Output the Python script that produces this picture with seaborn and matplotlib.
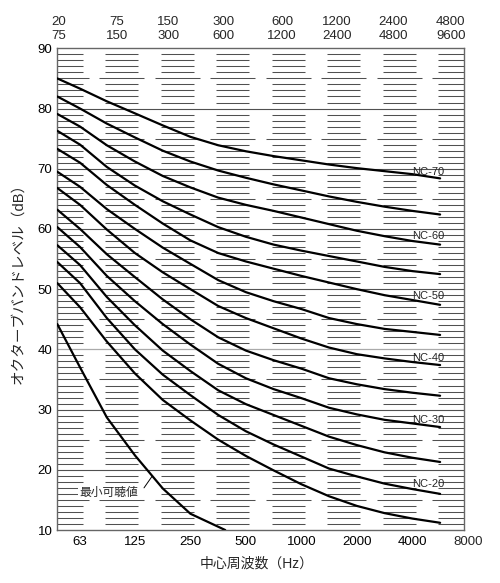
import numpy as np
import pandas as pd
import matplotlib
matplotlib.use("Agg")
import matplotlib.pyplot as plt
from matplotlib.ticker import NullLocator
import seaborn as sns

# frequencies (Hz) where the curves were read, left edge to curve end
hz = [47.4, 63, 88, 125, 177, 250, 354, 500, 707, 1000, 1414, 2000, 2828, 4000, 5657]
nc70 = [85.0, 83.3, 81.2, 79.2, 77.2, 75.3, 73.9, 72.9, 72.1, 71.4, 70.7, 70.1, 69.6, 69.1, 68.4]
nc65 = [82.0, 80.0, 77.5, 75.2, 73.0, 71.2, 69.7, 68.5, 67.4, 66.4, 65.4, 64.5, 63.7, 63.0, 62.4]
nc60 = [79.1, 77.0, 73.9, 71.2, 68.8, 66.9, 65.2, 64.0, 63.0, 61.9, 60.8, 59.7, 58.8, 58.0, 57.4]
nc55 = [76.3, 74.0, 70.3, 67.2, 64.6, 62.4, 60.3, 58.7, 57.4, 56.4, 55.5, 54.6, 53.7, 53.0, 52.5]
nc50 = [73.3, 71.0, 67.3, 64.0, 60.9, 58.1, 56.0, 54.6, 53.4, 52.2, 51.1, 50.0, 49.0, 48.2, 47.4]
nc45 = [69.5, 67.0, 63.3, 60.0, 56.9, 54.2, 51.5, 49.5, 48.0, 46.7, 45.2, 44.2, 43.4, 42.9, 42.4]
nc40 = [66.8, 64.0, 59.9, 56.0, 52.8, 50.0, 47.2, 45.2, 43.5, 41.8, 40.3, 39.2, 38.5, 37.9, 37.4]
nc35 = [63.2, 60.0, 55.8, 52.0, 48.3, 45.0, 42.0, 39.8, 38.2, 36.8, 35.2, 34.2, 33.4, 32.8, 32.3]
nc30 = [60.3, 57.0, 52.2, 48.0, 44.2, 40.8, 37.6, 35.2, 33.4, 31.9, 30.3, 29.2, 28.3, 27.7, 27.1]
nc25 = [57.3, 54.0, 48.7, 44.0, 39.8, 36.4, 33.2, 30.9, 29.1, 27.3, 25.5, 24.1, 22.9, 22.0, 21.3]
nc20 = [54.5, 51.0, 45.2, 40.0, 35.8, 32.4, 29.1, 26.4, 24.2, 22.2, 20.2, 18.9, 17.7, 16.8, 16.0]
nc15 = [51.0, 47.0, 41.3, 36.0, 31.6, 28.2, 25.0, 22.3, 19.9, 17.6, 15.6, 14.0, 12.8, 11.9, 11.2]

threshold_hz = [47.4, 63, 88, 125, 177, 250, 386]
threshold_db = [44.2, 37.0, 28.7, 22.4, 16.9, 12.7, 10.0]

bottom_ticks = [63, 125, 250, 500, 1000, 2000, 4000, 8000]
band_lo = [20, 75, 150, 300, 600, 1200, 2400, 4800]
band_hi = [75, 150, 300, 600, 1200, 2400, 4800, 9600]
nc_names = ["NC-70", "NC-60", "NC-50", "NC-40", "NC-30", "NC-20"]
nc_name_db = [69.5, 58.9, 48.9, 38.6, 28.3, 17.7]

curves = {"NC-70": nc70, "NC-65": nc65, "NC-60": nc60, "NC-55": nc55,
          "NC-50": nc50, "NC-45": nc45, "NC-40": nc40, "NC-35": nc35,
          "NC-30": nc30, "NC-25": nc25, "NC-20": nc20, "NC-15": nc15}
df = pd.concat([pd.DataFrame({"hz": hz, "db": v, "curve": k}) for k, v in curves.items()])

sns.set_theme(style="white")
plt.rcParams["font.family"] = ["Liberation Sans", "Noto Sans CJK JP"]

fig = plt.figure(figsize=(5, 5.83), dpi=100)
ax = fig.add_axes([0.1146, 0.0909, 0.8134, 0.8262])
ax.set_xscale("log")
xmin, xmax = 47.4, 7624
ax.set_xlim(xmin, xmax)
ax.set_ylim(10, 90)

# background ruling: 1 dB dashes, 5 dB long dashes, 10 dB lines
dash_centres = [53, 106, 212, 424, 849, 1697, 3394, 6788]
fine = [v for v in range(11, 90) if v % 5]
mid = [v for v in range(15, 90, 10)]
for c in dash_centres:
    ax.hlines(fine, c / 2 ** 0.297, c * 2 ** 0.297, color="#505050", lw=0.75, zorder=1)
    ax.hlines(mid, c / 2 ** 0.405, c * 2 ** 0.405, color="#505050", lw=0.75, zorder=1)
ax.hlines([20, 30, 50, 60, 70, 80], xmin, xmax, color="#505050", lw=0.8, zorder=1)
ax.hlines([40], xmin, xmax, color="#aaaaaa", lw=0.9, zorder=1)

sns.lineplot(data=df, x="hz", y="db", units="curve", estimator=None,
             color="black", lw=1.6, ax=ax, legend=False, zorder=3)
sns.lineplot(x=threshold_hz, y=threshold_db, color="black", lw=1.6, ax=ax, zorder=3)

for name, y in zip(nc_names, nc_name_db):
    ax.text(4870, y, name, fontsize=8, ha="center", va="center", zorder=4)

ax.text(90.5, 16.2, "最小可聴値", fontsize=8.5, ha="center", va="center", zorder=4,
        bbox=dict(facecolor="white", edgecolor="none", pad=1))
ax.annotate("", xy=(154.7, 18.9), xytext=(140, 17.0),
            arrowprops=dict(arrowstyle="-", color="black", lw=0.7, shrinkA=0, shrinkB=0))

# axes and ticks
ax.set_xlabel("")
ax.set_ylabel("")
ax.xaxis.set_minor_locator(NullLocator())
ax.set_xticks(bottom_ticks[:-1], labels=[str(t) for t in bottom_ticks[:-1]])
ax.annotate(str(bottom_ticks[-1]), xy=(bottom_ticks[-1], 0), xycoords=("data", "axes fraction"),
            xytext=(0, -4.5), textcoords="offset points", ha="center", va="top",
            fontsize=9.5, annotation_clip=False)
ax.set_yticks(range(10, 91, 10))
ax.tick_params(length=0, labelsize=9.5, colors="black")
ax.tick_params(axis="x", pad=4.5)
ax.tick_params(axis="y", pad=3.5)

top_pos = [48, 100, 189, 380, 785, 1560, 3140, 6460]
sec = ax.secondary_xaxis("top")
sec.xaxis.set_minor_locator(NullLocator())
sec.set_xticks(top_pos, labels=[f"{a}\n{b}" for a, b in zip(band_lo, band_hi)])
sec.tick_params(length=0, labelsize=9.5, pad=4.5)
for t in sec.get_xticklabels():
    t.set_linespacing(1.2)
for s in sec.spines.values():
    s.set_visible(False)

for s in ax.spines.values():
    s.set_visible(True)
    s.set_color("#666666")
    s.set_linewidth(1.0)

fig.text(18 / 500, 1 - 280 / 583, "オクターブバンドレベル（dB）", rotation=90,
         ha="center", va="center", fontsize=10.5)
fig.text(257 / 500, 1 - 564 / 583, "中心周波数（Hz）", ha="center", va="center", fontsize=10)

fig.savefig("out.png", dpi=100)
